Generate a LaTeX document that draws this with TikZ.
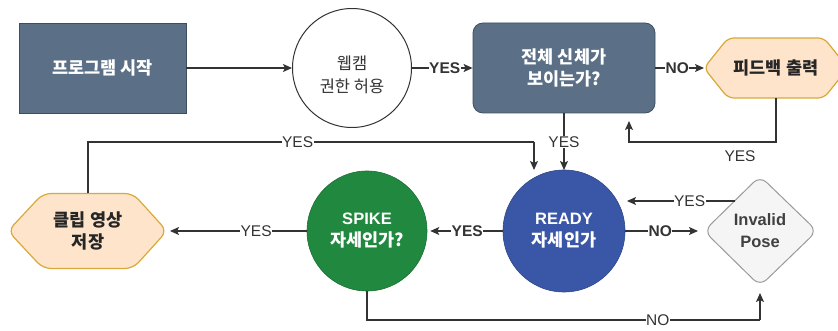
\documentclass[tikz,border=0pt]{standalone}
\usepackage{fontspec}
\setmainfont{Liberation Sans}
\newfontfamily\kr{Noto Sans CJK KR}
\usetikzlibrary{arrows.meta,calc}
\definecolor{slate}{HTML}{5B7086}
\definecolor{slateb}{HTML}{3E4E5E}
\definecolor{peach}{HTML}{FDE4CA}
\definecolor{gold}{HTML}{D9A93A}
\definecolor{ready}{HTML}{3A57A7}
\definecolor{spike}{HTML}{21893F}
\definecolor{ln}{HTML}{333333}
\definecolor{grayfill}{HTML}{F5F5F5}
\definecolor{grayb}{HTML}{9A9A9A}
\tikzset{
  conn/.style={draw=ln, line width=1.3pt, -{Stealth[length=9pt,width=8pt,inset=2pt]}},
  plain/.style={draw=ln, line width=1.3pt},
  lab/.style={fill=white, inner sep=0.5pt, font=\fontsize{15.5}{18}\selectfont, text=ln},
  blab/.style={lab, font=\fontsize{15.5}{18}\selectfont\bfseries},
  txt/.style={align=center, font=\fontsize{16.5}{22}\selectfont\bfseries},
  krt/.style={align=center, font=\fontsize{17.5}{22}\selectfont\bfseries\kr},
}
\begin{document}
\begin{tikzpicture}[x=1pt,y=-1pt]
\useasboundingbox (0,0) rectangle (838,331);
% nodes
\node[draw=slateb, fill=slate, line width=0.8pt, minimum width=167pt, minimum height=90pt, krt, text=white] (start) at (102.5,68) {프로그램 시작};
\node[circle, draw=ln, fill=white, line width=1pt, minimum size=119pt] (cam) at (352,68) {};
\node[align=center, text=ln, font=\fontsize{16.5}{23.5}\selectfont\kr] (camt) at (352,75) {웹캠\\권한 허용};
\node[draw=slateb, fill=slate, line width=0.8pt, rounded corners=10pt, minimum width=182pt, minimum height=90pt, krt, text=white] (body) at (564,68) {전체 신체가\\보이는가?};
% feedback hexagon
\coordinate (fb) at (776,68);
\filldraw[fill=peach, draw=gold, line width=1.2pt, rounded corners=6pt]
  (704,68) -- (728,38) -- (824,38) -- (848,68) -- (824,98) -- (728,98) -- cycle;
\node[krt, text=black!85] (fbt) at (776,68) {피드백 출력};
\coordinate (fbw) at (704,68);
\coordinate (fbs) at (776,98);
% clip hexagon
\filldraw[fill=peach, draw=gold, line width=1.2pt, rounded corners=8pt]
  (8,231) -- (43,193.5) -- (133,193.5) -- (167,231) -- (133,268.5) -- (43,268.5) -- cycle;
\node[krt, text=black!85] (clipt) at (88,231) {클립 영상\\저장};
\coordinate (clipn) at (88,193.5);
\coordinate (clipe) at (167,231);
% circles
\node[circle, fill=ready, draw=ready!80!black, line width=0.6pt, minimum size=122pt, txt, text=white] (ready) at (564,231) {READY\\{\fontsize{17.5}{22}\selectfont\kr 자세인가}};
\node[circle, fill=spike, draw=spike!80!black, line width=0.6pt, minimum size=120pt, txt, text=white] (spike) at (367,231) {SPIKE\\{\fontsize{17.5}{22}\selectfont\kr 자세인가?}};
% diamond
\filldraw[fill=grayfill, draw=grayb, line width=1pt, rounded corners=9pt]
  (704,231) -- (760,176) -- (817,231) -- (760,286) -- cycle;
\node[txt, text=black!75] (inv) at (760,231) {Invalid\\Pose};
\coordinate (invw) at (704,231);
\coordinate (invs) at (760,286);
\coordinate (invnw) at (735,201);
% connectors
\draw[conn] (start.east) -- (cam.west);
\draw[conn] (cam.east) -- node[blab, pos=0.54] {YES} (body.west);
\draw[conn] (body.east) -- node[blab, pos=0.45] {NO} (fbw);
\coordinate (fbret) at (629,121);
\draw[conn] (fbs) -- (776,142) -- (629,142) -- (fbret);
\node[lab, fill=none] (fby) at (740,156) {YES};
\coordinate (readytop) at (564,170);
\draw[conn] (body.south) -- node[lab, pos=0.5] {YES} (readytop);
\coordinate (loopend) at (534,170);
\draw[plain] (clipn) -- (88,142) -- node[lab, pos=0.47] {YES} (534,142);
\draw[conn] (534,142) -- (loopend);
\draw[conn] (ready.west) -- node[blab, pos=0.49] {YES} ($(spike.east)+(3,0)$);
\draw[conn] (spike.west) -- node[lab, pos=0.37] {YES} ($(clipe)+(3,0)$);
\draw[conn] (ready.east) -- node[blab, pos=0.48] {NO} ($(invw)+(-6,0)$);
\draw[conn] (invnw) -- node[lab, pos=0.42] {YES} (627,201);
\draw[plain] (spike.south) -- (367,320) -- node[lab, pos=0.74] {NO} (760,320);
\draw[conn] (760,320) -- ($(invs)+(0,7)$);
\end{tikzpicture}
\end{document}
